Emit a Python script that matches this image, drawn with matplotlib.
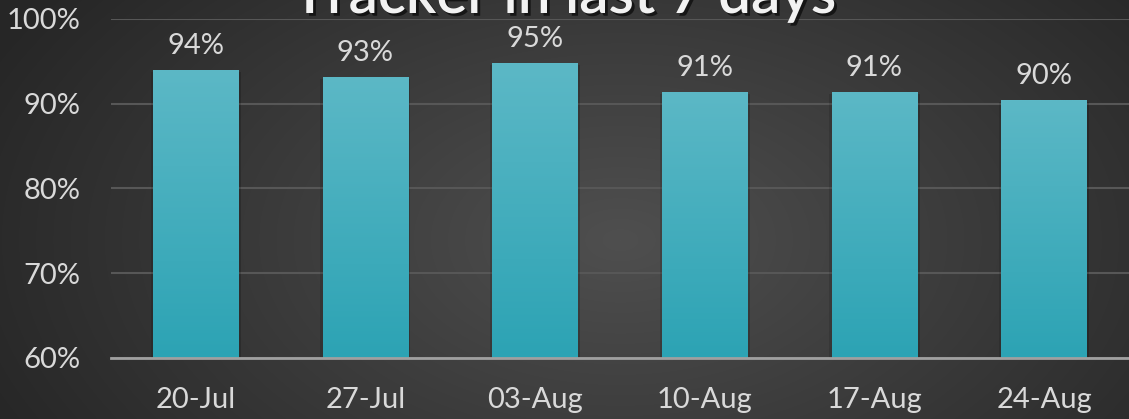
import numpy as np
import matplotlib
matplotlib.use('Agg')
import matplotlib.pyplot as plt
import matplotlib.patheffects as pe
from matplotlib.ticker import FuncFormatter

# data
weeks = ['20-Jul', '27-Jul', '03-Aug', '10-Aug', '17-Aug', '24-Aug']
tracker = [0.940, 0.932, 0.948, 0.914, 0.914, 0.904]
title = 'Tracker in last 7 days'

plt.rcParams['font.family'] = ['Lato', 'DejaVu Sans']

fig = plt.figure(figsize=(11.29, 4.19), dpi=100)

# radial dark background
bg = fig.add_axes([0, 0, 1, 1], zorder=-10)
yy, xx = np.mgrid[0:419, 0:1129]
r = np.sqrt(((xx - 620) / 700.0) ** 2 + ((yy - 240) / 420.0) ** 2)
shade = np.clip(0.31 - 0.16 * r, 0.15, 0.31)
bg.imshow(np.dstack([shade] * 3), aspect='auto', extent=[0, 1, 0, 1])
bg.set_axis_off()

ax = fig.add_axes([0.0983, 0.1456, 0.9017, 0.8091])
ax.patch.set_alpha(0)
x = np.arange(len(weeks))
bars = ax.bar(x, tracker, width=0.506, bottom=0, color='#44b2c2', zorder=3,
              path_effects=[pe.SimplePatchShadow(offset=(1.5, -1.5), alpha=0.18, shadow_rgbFace='black'),
                            pe.SimplePatchShadow(offset=(-1.5, -1.5), alpha=0.12, shadow_rgbFace='black'),
                            pe.Normal()])

# vertical teal gradient in each bar
grad = np.linspace(0, 1, 256).reshape(-1, 1)
top_c = np.array([0x5c, 0xb8, 0xc6]) / 255.0
bot_c = np.array([0x2c, 0xa3, 0xb4]) / 255.0
img = top_c * (1 - grad[..., None]) + bot_c * grad[..., None]
for b in bars:
    im = ax.imshow(img, aspect='auto', zorder=4,
                   extent=[b.get_x(), b.get_x() + b.get_width(), 0.6, b.get_height()])
    im.set_clip_path(b)

for xi, v in zip(x, tracker):
    ax.annotate(f'{v:.0%}', (xi, v), xytext=(0, 8), textcoords='offset points',
                ha='center', va='bottom', fontsize=21, color='#d9d9d9', zorder=6)

ax.set_xlim(-0.5, len(weeks) - 0.5)
ax.set_ylim(0.6, 1.0)
ax.set_yticks([0.6, 0.7, 0.8, 0.9, 1.0])
ax.yaxis.set_major_formatter(FuncFormatter(lambda v, p: f'{v:.0%}'))
ax.set_xticks(x)
ax.set_xticklabels(weeks)
ax.tick_params(axis='both', length=0, labelsize=21, labelcolor='#d9d9d9')
ax.tick_params(axis='x', pad=21)
ax.tick_params(axis='y', pad=22)
ax.grid(axis='y', color='#575757', linewidth=1.5, zorder=1)
for s in ['top', 'right', 'left']:
    ax.spines[s].set_visible(False)
ax.spines['bottom'].set_color('#a0a0a0')
ax.spines['bottom'].set_linewidth(2)
ax.spines['bottom'].set_zorder(5)

fig.text(0.50, 1 - 13 / 419.0, title, ha='center', va='baseline', fontsize=42,
         fontweight='semibold', color='#f2f2f2',
         path_effects=[pe.withSimplePatchShadow(offset=(2, -2), alpha=0.6, shadow_rgbFace='black')])

fig.savefig('out.png', dpi=100)
